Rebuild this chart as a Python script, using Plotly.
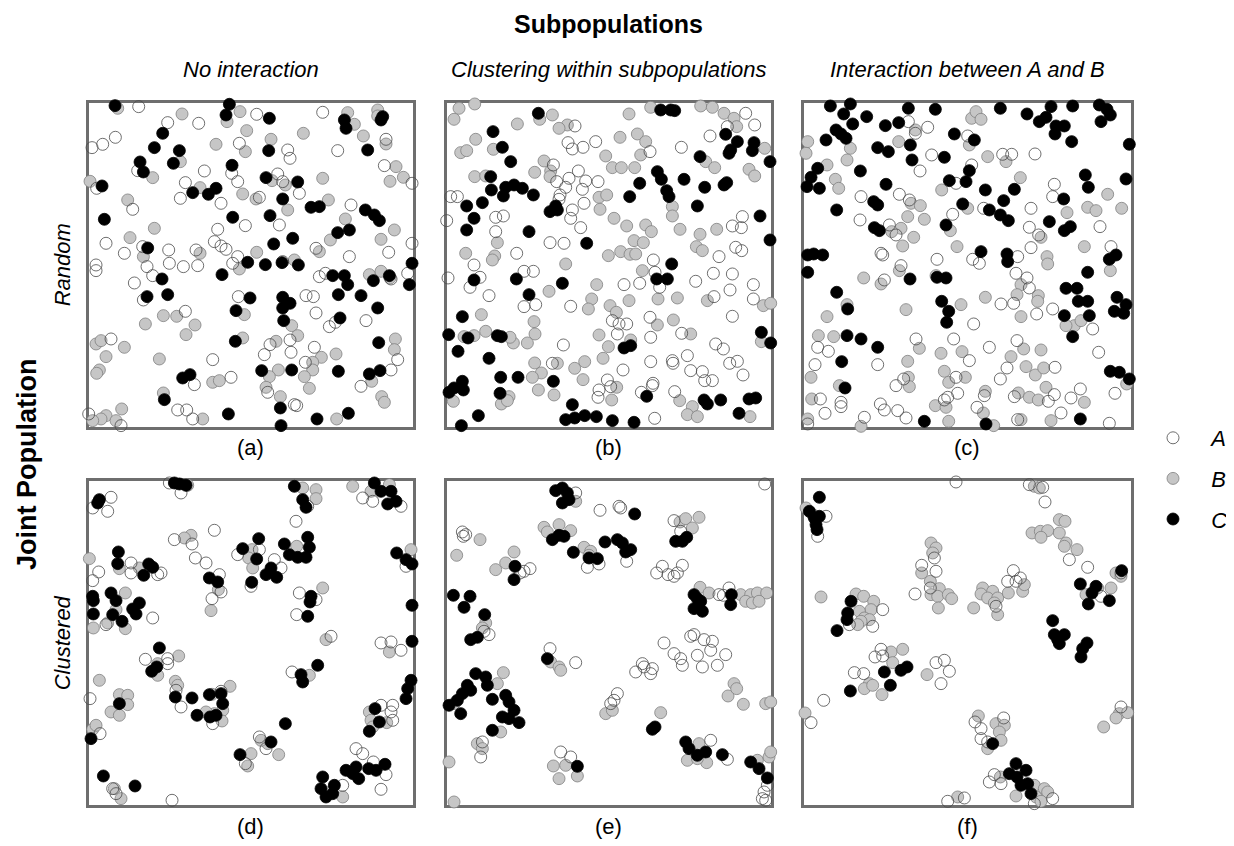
import plotly.graph_objects as go

# Spatial point patterns: coordinates inside a square observation window
# (x from about 8 to 980, y from about 2 to 974). A = open, B = grey, C = black.

a_A = [(158,964),(710,947),(512,941),(245,916),(338,914),(88,872),(50,851),(18,841),(460,854),(605,834),
       (612,809),(755,832),(900,866),(895,787),(355,771),(155,772),(437,764),(455,739),(298,736),(575,762),
       (590,739),(640,704),(978,734),(32,719),(283,689),(405,674),(520,692),(140,656),(795,669),(580,609),
       (478,607),(395,596),(385,559),(405,546),(420,536),(60,554),(248,534),(170,544),(330,534),(115,524),
       (690,539),(908,527),(978,554),(790,514),(455,514),(30,489),(250,494),(335,487),(440,494),(590,499),
       (30,472),(183,484),(292,484),(200,457),(145,435),(700,454),(718,464),(965,464),(915,447),(457,394),
       (660,397),(682,394),(172,384),(298,350),(690,345),(840,322),(730,304),(748,317),(75,267),(552,250),
       (535,220),(615,227),(612,264),(685,242),(380,205),(658,197),(935,205),(915,174),(435,152),(325,130),
       (825,125),(545,107),(625,70),(632,67),(275,54),(302,54),(8,42),(320,27),(105,7)]
a_B = [(95,959),(288,942),(462,949),(423,919),(785,946),(805,911),(875,954),(875,936),(482,892),(652,884),
       (832,876),(555,866),(390,851),(478,829),(900,852),(283,799),(930,784),(12,740),(200,751),(710,749),
       (912,740),(952,752),(558,742),(598,729),(342,721),(470,702),(510,687),(125,684),(605,654),(727,684),
       (778,627),(925,594),(205,599),(132,571),(885,566),(733,564),(700,529),(512,527),(342,524),(172,514),
       (625,504),(460,477),(850,460),(885,470),(912,450),(232,337),(272,335),(327,309),(178,312),(300,280),
       (475,340),(617,307),(635,277),(570,260),(470,270),(30,252),(45,262),(115,242),(60,214),(40,174),
       (32,164),(220,207),(928,267),(925,235),(750,222),(706,212),(680,197),(680,174),(655,154),(670,119),
       (577,174),(550,154),(540,122),(583,94),(380,137),(400,142),(232,105),(857,140),(887,94),(895,77),
       (107,57),(60,37),(45,27),(90,22),(20,22),(350,27),(752,27)]
a_C = [(87,967),(430,971),(420,939),(550,929),(775,924),(890,934),(885,924),(780,899),(230,884),(205,841),
       (280,832),(548,832),(845,834),(162,798),(262,794),(172,768),(438,788),(48,726),(540,751),(635,738),
       (320,706),(367,701),(390,719),(590,687),(675,662),(700,664),(838,654),(865,639),(880,622),(55,626),
       (440,632),(552,637),(790,594),(755,586),(620,569),(563,552),(185,540),(485,497),(538,490),(588,496),
       (637,489),(978,494),(228,447),(183,394),(245,400),(408,460),(492,390),(450,352),(590,392),(590,360),
       (612,374),(593,322),(740,457),(775,457),(785,430),(862,442),(910,457),(970,430),(757,400),(825,397),
       (875,360),(762,330),(448,260),(878,256),(290,150),(312,160),(527,172),(617,174),(757,170),(850,162),
       (882,172),(235,85),(427,42),(583,60),(585,7),(693,27),(787,44)]

b_A = [(393,906),(372,856),(385,837),(417,842),(455,859),(618,829),(712,842),(798,876),(905,944),(932,909),
       (850,904),(328,789),(403,771),(375,749),(425,741),(462,739),(338,739),(365,722),(415,716),(348,699),
       (345,686),(20,694),(40,694),(385,654),(380,629),(420,674),(155,632),(178,636),(410,601),(155,589),
       (318,556),(360,554),(218,524),(895,634),(865,606),(892,601),(875,542),(893,532),(825,514),(628,504),
       (90,489),(8,622),(12,450),(240,470),(268,470),(78,422),(108,452),(135,397),(240,364),(275,370),
       (380,365),(540,430),(587,434),(633,467),(647,422),(755,440),(808,464),(865,462),(858,414),(928,430),
       (928,387),(810,394),(865,335),(618,332),(620,272),(505,322),(525,312),(548,312),(520,282),(713,284),
       (358,249),(325,194),(620,199),(685,202),(687,194),(730,217),(815,252),(838,237),(857,194),(880,200),
       (897,159),(740,172),(775,169),(782,142),(805,142),(537,174),(490,144),(500,124),(465,114),(462,92),
       (627,134),(625,127),(592,107),(692,109),(632,29)]
b_B = [(45,959),(92,972),(30,926),(325,939),(287,926),(220,912),(370,909),(345,899),(555,942),(620,962),
       (770,966),(805,962),(840,944),(870,929),(878,904),(95,866),(50,826),(68,832),(148,836),(528,872),
       (580,882),(605,859),(590,819),(485,816),(505,781),(532,781),(572,781),(300,801),(320,771),(318,754),
       (272,767),(92,754),(125,756),(785,799),(812,781),(915,776),(932,756),(962,839),(465,692),(488,699),
       (468,656),(685,664),(685,636),(510,629),(548,606),(605,609),(622,589),(708,596),(818,596),(768,581),
       (570,562),(598,556),(757,544),(775,532),(530,529),(558,521),(575,522),(493,517),(160,556),(152,516),
       (145,504),(65,524),(365,492),(595,472),(315,410),(458,430),(443,387),(433,357),(498,367),(517,347),
       (555,382),(642,387),(700,390),(790,382),(958,367),(980,374),(112,340),(270,319),(273,282),(250,255),
       (208,255),(198,272),(125,290),(90,277),(60,274),(465,279),(493,244),(477,209),(560,264),(640,309),
       (688,324),(740,282),(952,259),(272,195),(292,165),(265,152),(340,194),(392,179),(422,199),(417,145),
       (283,114),(330,99),(28,80),(172,72),(195,94),(190,82),(518,122),(503,84),(707,82),(745,64),
       (730,40),(760,34),(918,34)]
b_C = [(283,944),(650,954),(680,954),(692,952),(147,889),(175,842),(200,799),(845,881),(880,859),(860,834),
       (855,824),(930,856),(925,832),(768,814),(978,799),(140,754),(142,714),(185,722),(210,729),(235,719),
       (178,696),(268,699),(68,666),(115,676),(90,629),(68,594),(335,666),(318,649),(340,654),(640,769),
       (652,746),(587,734),(557,694),(720,746),(668,712),(675,694),(782,722),(848,736),(840,729),(760,666),
       (948,636),(255,589),(428,554),(978,564),(683,492),(90,444),(217,447),(255,400),(355,434),(638,447),
       (670,447),(55,334),(14,280),(72,270),(160,277),(172,274),(42,230),(135,209),(170,152),(222,152),
       (328,140),(55,140),(30,120),(15,107),(58,114),(168,104),(540,240),(560,247),(952,287),(980,255),
       (608,95),(780,84),(790,72),(830,84),(915,87),(935,90),(885,44),(385,70),(103,37),(52,7),
       (365,25),(392,30),(422,37),(457,34),(505,22),(570,17)]

c_A = [(322,919),(343,884),(380,902),(500,876),(392,819),(357,771),(605,821),(632,821),(702,822),(512,789),
       (465,734),(180,694),(295,701),(325,684),(548,659),(455,641),(177,624),(265,609),(285,579),(690,659),
       (760,731),(755,694),(685,602),(713,579),(897,604),(690,541),(930,544),(650,514),(515,506),(408,506),
       (240,524),(245,519),(535,494),(300,487),(250,444),(645,464),(678,450),(685,420),(600,372),(638,374),
       (707,342),(755,357),(518,312),(875,297),(345,267),(458,267),(565,242),(648,262),(893,227),(50,242),
       (82,230),(42,190),(230,190),(505,202),(618,180),(598,147),(762,182),(465,152),(308,147),(285,127),
       (470,104),(440,92),(550,97),(640,94),(760,100),(742,80),(810,90),(838,117),(942,104),(58,87),
       (120,77),(120,64),(72,44),(238,72),(250,54),(290,52),(315,30),(190,32),(430,84),(528,62),
       (780,45),(650,25),(925,14),(20,12)]
c_B = [(20,859),(15,824),(148,839),(138,804),(78,789),(103,746),(113,719),(293,859),(343,894),(505,849),
       (512,929),(525,949),(540,926),(560,814),(615,799),(658,751),(422,714),(330,674),(358,667),(320,634),
       (370,626),(500,659),(448,592),(300,599),(272,589),(338,572),(305,546),(468,544),(720,572),(738,514),
       (798,646),(860,662),(885,652),(920,701),(962,659),(850,544),(188,450),(240,432),(295,472),(405,457),
       (740,492),(928,472),(138,370),(78,334),(315,355),(480,370),(553,392),(660,430),(648,400),(712,397),
       (710,380),(660,334),(820,307),(795,307),(840,322),(52,277),(98,274),(355,239),(420,224),(483,229),
       (320,200),(322,152),(325,124),(430,170),(443,137),(493,152),(630,214),(668,237),(720,234),(675,184),
       (703,159),(728,180),(735,122),(30,152),(115,127),(32,87),(20,27),(553,110),(652,105),(685,92),
       (712,84),(850,77),(977,132),(403,67),(435,62),(547,45),(443,20),(578,7),(660,25),(750,22),(180,5)]
c_C = [(88,966),(148,972),(128,942),(197,934),(155,912),(322,959),(403,956),(253,907),(293,916),(105,894),
       (120,882),(135,869),(75,864),(230,841),(262,829),(328,849),(333,804),(460,882),(520,864),(430,812),
       (598,959),(678,942),(715,919),(735,932),(750,964),(765,906),(790,906),(762,882),(812,859),(815,966),
       (895,969),(918,956),(928,939),(900,919),(985,851),(50,779),(30,752),(18,724),(55,719),(178,771),
       (255,731),(505,772),(445,742),(495,739),(553,714),(640,716),(608,682),(485,672),(565,654),(598,639),
       (622,622),(853,759),(862,722),(975,747),(788,687),(745,619),(790,592),(808,604),(218,679),(230,669),
       (107,654),(220,601),(235,592),(435,609),(540,529),(618,522),(620,499),(20,519),(38,522),(65,519),
       (925,506),(945,519),(20,467),(327,447),(408,452),(435,450),(107,407),(140,357),(422,380),(443,350),
       (437,317),(860,467),(795,419),(828,419),(832,380),(860,380),(790,337),(865,337),(948,392),(975,370),
       (940,350),(968,344),(815,274),(138,277),(180,267),(230,242),(122,199),(132,120),(928,170),(955,167),
       (985,147),(370,20),(555,12),(838,27)]

d_A = [(75,926),(20,894),(65,884),(285,939),(250,969),(630,854),(665,899),(830,924),(860,914),(945,899),
       (385,827),(265,799),(318,786),(328,744),(360,729),(455,754),(520,769),(565,739),(585,714),(135,729),
       (135,699),(38,702),(20,676),(225,699),(215,694),(400,694),(405,642),(378,622),(495,659),(640,639),
       (690,619),(632,574),(200,564),(60,544),(735,509),(885,489),(915,492),(960,719),(178,440),(245,427),
       (245,442),(285,297),(270,347),(405,344),(380,247),(12,322),(42,217),(618,402),(520,207),(540,172),
       (478,127),(920,302),(915,282),(920,257),(885,302),(945,467),(810,172),(830,157),(862,132),(900,94),
       (885,50),(770,62),(258,17),(90,37),(80,52),(985,352)]
d_B = [(305,962),(690,949),(690,922),(650,954),(800,959),(855,944),(910,964),(315,812),(295,804),(632,779),
       (498,769),(488,744),(500,714),(160,714),(100,712),(10,742),(975,769),(397,649),(118,639),(90,589),
       (710,654),(375,586),(22,534),(65,549),(118,532),(720,499),(278,450),(215,427),(215,392),(40,377),
       (100,334),(125,332),(125,304),(75,282),(100,272),(268,374),(275,362),(432,359),(378,335),(410,287),
       (385,277),(408,255),(360,282),(20,230),(30,242),(670,392),(545,187),(578,154),(495,157),(485,120),
       (525,197),(85,52),(105,22),(910,462),(850,282),(855,257),(860,237),(902,250),(770,27),(725,40)]
d_C = [(265,969),(280,966),(300,962),(40,919),(35,909),(625,959),(650,919),(660,896),(865,969),(885,944),
       (915,944),(905,906),(930,914),(518,802),(470,772),(595,786),(665,806),(670,776),(610,754),(635,746),
       (660,746),(512,741),(555,714),(540,694),(572,686),(497,671),(97,762),(95,727),(188,726),(200,716),
       (173,692),(370,684),(395,672),(932,759),(960,739),(978,726),(75,639),(20,629),(22,616),(90,616),
       (160,609),(140,591),(150,576),(22,576),(80,574),(108,554),(675,629),(672,612),(665,569),(978,602),
       (978,494),(220,474),(197,404),(212,417),(100,307),(268,327),(318,324),(370,334),(405,337),(410,307),
       (333,272),(372,267),(390,272),(15,202),(598,247),(645,394),(650,372),(695,422),(555,192),(462,154),
       (52,90),(147,60),(975,377),(965,352),(960,322),(867,292),(880,252),(850,224),(710,87),(705,52),
       (720,27),(745,62),(740,37),(780,107),(800,97),(810,117),(818,82),(848,112),(870,107),(897,125)]

e_A = [(962,966),(468,887),(525,899),(530,894),(395,939),(55,822),(65,814),(58,809),(690,856),(710,824),
       (548,734),(430,716),(465,726),(258,712),(228,699),(240,704),(655,719),(638,699),(672,694),(690,689),
       (700,699),(715,722),(825,634),(838,632),(855,654),(120,524),(135,514),(660,489),(740,509),(780,499),
       (805,494),(750,514),(318,472),(395,430),(690,457),(710,442),(715,422),(760,452),(775,417),(800,467),
       (820,422),(845,454),(575,402),(600,417),(620,397),(625,412),(595,427),(520,337),(510,317),(500,307),
       (115,192),(110,147),(350,162),(380,147),(800,197),(850,140),(960,42),(965,17),(955,22),(970,62)]
e_B = [(395,914),(300,836),(345,844),(380,826),(310,822),(420,776),(440,764),(435,752),(108,799),(38,752),
       (210,762),(185,729),(155,709),(708,852),(725,862),(765,866),(745,834),(768,656),(795,639),(890,634),
       (920,634),(940,639),(968,639),(905,614),(925,609),(945,614),(125,549),(115,534),(320,432),(345,417),
       (350,407),(178,400),(160,367),(30,307),(170,222),(100,187),(115,172),(15,132),(30,12),(485,277),
       (505,287),(650,280),(870,367),(852,330),(878,352),(898,305),(965,307),(980,312),(982,262),(765,187),
       (730,137),(788,130),(760,142),(328,120),(345,82),(365,122),(400,90),(940,137),(975,147),(980,162)]
e_C = [(335,946),(355,954),(370,939),(355,909),(375,919),(572,876),(325,799),(345,812),(360,809),(388,761),
       (483,792),(520,799),(535,789),(545,762),(560,769),(435,744),(460,742),(213,719),(210,679),(695,794),
       (715,794),(728,806),(28,632),(78,629),(60,596),(122,574),(750,634),(760,622),(770,614),(750,592),
       (775,584),(862,634),(860,604),(80,499),(100,506),(310,442),(95,397),(125,387),(130,362),(70,362),
       (55,337),(40,317),(15,302),(50,277),(80,347),(145,320),(185,332),(195,312),(210,287),(175,267),
       (195,262),(225,250),(145,227),(625,230),(633,237),(725,192),(735,172),(760,152),(785,162),(835,154),
       (920,132),(945,112),(970,84),(400,119)]

f_A = [(465,972),(685,964),(725,956),(732,912),(75,869),(50,809),(400,744),(405,704),(362,722),(342,636),
       (388,654),(637,706),(620,674),(645,674),(658,684),(585,599),(805,739),(860,716),(245,589),(215,539),
       (145,544),(900,629),(960,699),(240,470),(222,447),(245,450),(160,400),(188,397),(405,430),(430,437),
       (445,404),(420,367),(68,317),(30,250),(522,252),(540,232),(608,264),(540,202),(560,192),(580,94),
       (565,72),(600,67),(440,14),(490,24),(700,7),(755,22),(960,297)]
f_B = [(15,894),(35,874),(60,627),(165,636),(188,629),(218,614),(210,589),(175,584),(190,564),(205,559),
       (180,554),(170,544),(390,789),(405,774),(395,759),(362,699),(388,674),(415,652),(390,634),(410,629),
       (442,634),(452,622),(412,594),(518,594),(545,654),(540,636),(575,644),(560,624),(590,624),(580,609),
       (590,574),(622,639),(665,644),(670,664),(693,819),(718,824),(740,826),(775,819),(720,806),(775,859),
       (792,854),(795,789),(790,779),(828,769),(855,634),(890,654),(930,654),(945,699),(960,689),(700,959),
       (715,954),(270,462),(305,470),(275,430),(205,367),(190,352),(215,362),(243,334),(378,394),(12,279),
       (532,270),(585,247),(610,242),(595,222),(600,197),(560,172),(955,277),(980,280),(945,264),(908,237),
       (598,87),(645,30),(700,62),(730,52),(740,42),(705,27),(720,14),(470,27)]
f_C = [(55,926),(25,884),(40,864),(55,869),(45,844),(48,829),(150,614),(140,579),(138,559),(108,526),
       (838,666),(885,659),(873,639),(862,606),(925,616),(962,706),(755,556),(760,514),(790,514),(770,499),
       (858,489),(775,487),(845,472),(840,447),(250,402),(300,407),(318,417),(268,362),(148,345),(575,187),
       (645,127),(675,107),(625,97),(648,87),(660,62),(680,67),(690,37)]

panels = [("a", a_A, a_B, a_C), ("b", b_A, b_B, b_C), ("c", c_A, c_B, c_C),
          ("d", d_A, d_B, d_C), ("e", e_A, e_B, e_C), ("f", f_A, f_B, f_C)]

col_titles = ["No interaction", "Clustering within subpopulations", "Interaction between A and B"]
row_titles = ["Random", "Clustered"]
panel_labels = ["(a)", "(b)", "(c)", "(d)", "(e)", "(f)"]
legend_names = {"A": "A", "B": "B", "C": "C"}

# the page body adds an 8 px margin, so the figure is laid out 8 px smaller
W, H = 1226, 838
OFF = 8
FONT = "Arial, Liberation Sans, sans-serif"

def px_x(v):
    return (v - OFF) / W

def px_y(v):
    return 1 - (v - OFF) / H

# subplot boxes (screen pixels)
col_px = [(88.7, 412.7), (446.7, 770.7), (803.7, 1131.0)]
col_rng = [(8, 980), (8, 980), (8, 990)]
row_px = [(103.3, 427.3), (481.3, 805.3)]
y_rng = (2, 974)

styles = {
    "A": dict(color="rgba(255,255,255,0)", line=dict(color="#4a4a4a", width=0.8)),
    "B": dict(color="#c6c6c6", line=dict(color="#808080", width=0.8)),
    "C": dict(color="#000000", line=dict(color="#000000", width=0.8)),
}
rank = {"A": 1, "B": 2, "C": 3}

fig = go.Figure()
layout = {}
for i, (name, pA, pB, pC) in enumerate(panels):
    r, c = divmod(i, 3)
    k = "" if i == 0 else str(i + 1)
    xa, ya = "x" + k, "y" + k
    pts = {"A": pA, "B": pB, "C": pC}
    for t in ["B", "A", "C"]:
        fig.add_trace(go.Scatter(
            x=[p[0] for p in pts[t]], y=[p[1] for p in pts[t]],
            mode="markers", xaxis=xa, yaxis=ya, cliponaxis=False,
            marker=dict(symbol="circle", size=12, **styles[t]),
            name="\u00a0\u00a0\u00a0" + legend_names[t], legendgroup=t, legendrank=rank[t],
            showlegend=(i == 0)))
    x0, x1 = col_px[c]
    yt, yb = row_px[r]
    common = dict(showticklabels=False, showgrid=False, zeroline=False, ticks="",
                  showline=True, mirror=True, linecolor="#6e6e6e", linewidth=2.5,
                  layer="below traces", fixedrange=True)
    layout["xaxis" + k] = dict(domain=[px_x(x0), px_x(x1)], range=list(col_rng[c]),
                              anchor=ya, **common)
    layout["yaxis" + k] = dict(domain=[px_y(yb), px_y(yt)], range=list(y_rng),
                              anchor=xa, **common)

def note(text, x, y, size, angle=0):
    return dict(text=text, x=px_x(x), y=px_y(y), xref="paper", yref="paper",
                xanchor="center", yanchor="middle", showarrow=False, textangle=angle,
                font=dict(size=size, color="#000", family=FONT))

title = note("<b>Subpopulations</b>", 608, 18, 25)
title.update(y=1.0, yanchor="top")
ann = [title]
centers = [(x0 + x1) / 2 for x0, x1 in col_px]
for cx, t in zip(centers, col_titles):
    ann.append(note("<i>%s</i>" % t, cx, 70, 22))
for i, lab in enumerate(panel_labels):
    r, c = divmod(i, 3)
    ann.append(note(lab, centers[c], [447, 826][r], 22))
for (yt, yb), t in zip(row_px, row_titles):
    ann.append(note("<i>%s</i>" % t, 62, (yt + yb) / 2, 22, -90))
ann.append(note("<b>Joint Population</b>", 27, 465, 27, -90))

fig.update_layout(
    width=W, height=H, autosize=False,
    margin=dict(l=0, r=0, t=0, b=0),
    paper_bgcolor="white", plot_bgcolor="white",
    annotations=ann,
    legend=dict(x=px_x(1153), y=px_y(417), xanchor="left", yanchor="top",
                font=dict(size=22, family=FONT, color="#000", style="italic"),
                tracegroupgap=9, bgcolor="rgba(0,0,0,0)", itemwidth=30),
    **layout,
)

fig.write_html("out.html")
